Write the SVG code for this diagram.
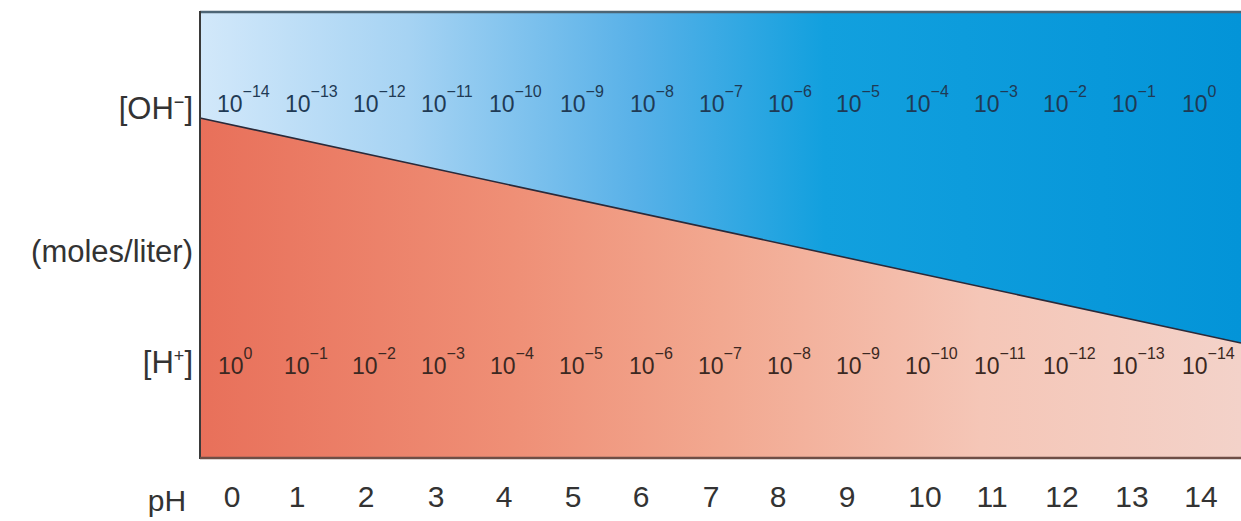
<svg xmlns="http://www.w3.org/2000/svg" width="1241" height="521" viewBox="0 0 1241 521">
<defs>
<linearGradient id="blue" gradientUnits="userSpaceOnUse" x1="200" y1="0" x2="1241" y2="0">
<stop offset="0" stop-color="#d2e8fa"/>
<stop offset="0.2" stop-color="#a6d3f3"/>
<stop offset="0.42" stop-color="#58b1e8"/>
<stop offset="0.6" stop-color="#12a0de"/>
<stop offset="1" stop-color="#0394d8"/>
</linearGradient>
<linearGradient id="red" gradientUnits="userSpaceOnUse" x1="200" y1="0" x2="1241" y2="0">
<stop offset="0" stop-color="#e8705a"/>
<stop offset="0.3" stop-color="#ef8f76"/>
<stop offset="0.5" stop-color="#f2a890"/>
<stop offset="0.75" stop-color="#f5c6b7"/>
<stop offset="1" stop-color="#f3d2c9"/>
</linearGradient>
<style>
.lab{font-family:"Liberation Sans",Arial,sans-serif;font-size:31px;fill:#333}
.ex{font-family:"Liberation Sans",Arial,sans-serif;font-size:23px}
.oh{fill:#1f3a55}
.h{fill:#3b2822}
.sup{font-size:16px}
.ph{font-family:"Liberation Sans",Arial,sans-serif;font-size:30px;fill:#333;text-anchor:middle}
</style>
</defs>
<g id="chart">
<rect x="200" y="12" width="1041" height="446" fill="url(#blue)"/>
<polygon points="200,118 1241,343 1241,458 200,458" fill="url(#red)"/>
<line x1="200" y1="118" x2="1241" y2="343" stroke="#2a2a3a" stroke-width="1.6"/>
<line x1="200" y1="12" x2="1241" y2="12" stroke="#4d6575" stroke-width="2.5"/>
<line x1="200" y1="11" x2="200" y2="459" stroke="#3a3a3a" stroke-width="2"/>
<line x1="200" y1="458" x2="1241" y2="458" stroke="#6e4e46" stroke-width="2.5"/>
</g>
<g id="axis-labels">
<text class="lab" x="193" y="119" text-anchor="end">[OH<tspan dy="-11" font-size="18">−</tspan><tspan dy="11">]</tspan></text>
<text class="lab" x="193" y="262" text-anchor="end">(moles/liter)</text>
<text class="lab" x="193" y="373" text-anchor="end">[H<tspan dy="-11" font-size="18">+</tspan><tspan dy="11">]</tspan></text>
</g>
<g id="oh-values" class="ex oh">
<text x="217" y="112">10<tspan class="sup" dy="-15">−14</tspan></text>
<text x="285" y="112">10<tspan class="sup" dy="-15">−13</tspan></text>
<text x="353" y="112">10<tspan class="sup" dy="-15">−12</tspan></text>
<text x="421" y="112">10<tspan class="sup" dy="-15">−11</tspan></text>
<text x="489" y="112">10<tspan class="sup" dy="-15">−10</tspan></text>
<text x="560" y="112">10<tspan class="sup" dy="-15">−9</tspan></text>
<text x="630" y="112">10<tspan class="sup" dy="-15">−8</tspan></text>
<text x="699" y="112">10<tspan class="sup" dy="-15">−7</tspan></text>
<text x="768" y="112">10<tspan class="sup" dy="-15">−6</tspan></text>
<text x="836" y="112">10<tspan class="sup" dy="-15">−5</tspan></text>
<text x="905" y="112">10<tspan class="sup" dy="-15">−4</tspan></text>
<text x="974" y="112">10<tspan class="sup" dy="-15">−3</tspan></text>
<text x="1043" y="112">10<tspan class="sup" dy="-15">−2</tspan></text>
<text x="1112" y="112">10<tspan class="sup" dy="-15">−1</tspan></text>
<text x="1182" y="112">10<tspan class="sup" dy="-15">0</tspan></text>
</g>
<g id="h-values" class="ex h">
<text x="218" y="374">10<tspan class="sup" dy="-15">0</tspan></text>
<text x="284" y="374">10<tspan class="sup" dy="-15">−1</tspan></text>
<text x="352" y="374">10<tspan class="sup" dy="-15">−2</tspan></text>
<text x="421" y="374">10<tspan class="sup" dy="-15">−3</tspan></text>
<text x="490" y="374">10<tspan class="sup" dy="-15">−4</tspan></text>
<text x="559" y="374">10<tspan class="sup" dy="-15">−5</tspan></text>
<text x="629" y="374">10<tspan class="sup" dy="-15">−6</tspan></text>
<text x="698" y="374">10<tspan class="sup" dy="-15">−7</tspan></text>
<text x="767" y="374">10<tspan class="sup" dy="-15">−8</tspan></text>
<text x="836" y="374">10<tspan class="sup" dy="-15">−9</tspan></text>
<text x="905" y="374">10<tspan class="sup" dy="-15">−10</tspan></text>
<text x="974" y="374">10<tspan class="sup" dy="-15">−11</tspan></text>
<text x="1043" y="374">10<tspan class="sup" dy="-15">−12</tspan></text>
<text x="1112" y="374">10<tspan class="sup" dy="-15">−13</tspan></text>
<text x="1182" y="374">10<tspan class="sup" dy="-15">−14</tspan></text>
</g>
<g id="ph-scale">
<text class="ph" x="167" y="511">pH</text>
<text class="ph" x="232" y="507">0</text>
<text class="ph" x="297" y="507">1</text>
<text class="ph" x="366" y="507">2</text>
<text class="ph" x="436" y="507">3</text>
<text class="ph" x="504" y="507">4</text>
<text class="ph" x="573" y="507">5</text>
<text class="ph" x="641" y="507">6</text>
<text class="ph" x="711" y="507">7</text>
<text class="ph" x="778" y="507">8</text>
<text class="ph" x="847" y="507">9</text>
<text class="ph" x="925" y="507">10</text>
<text class="ph" x="992" y="507">11</text>
<text class="ph" x="1062" y="507">12</text>
<text class="ph" x="1132" y="507">13</text>
<text class="ph" x="1201" y="507">14</text>
</g>
</svg>
